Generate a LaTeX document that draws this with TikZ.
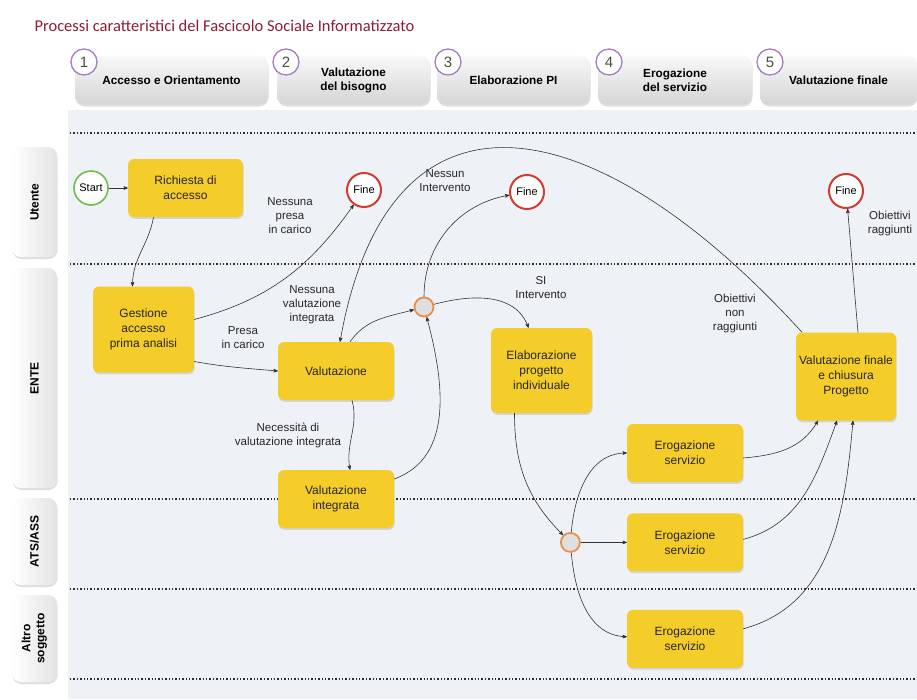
\documentclass[tikz,border=0pt]{standalone}
\usepackage{fontspec}
\setmainfont{Liberation Sans}
\newfontfamily\titlefont{Carlito}
\usetikzlibrary{positioning}
\usetikzlibrary{arrows}
\usetikzlibrary{shadows}

\definecolor{taskyellow}{HTML}{F5CD2B}
\definecolor{lanebg}{HTML}{EEF2F6}
\definecolor{finered}{HTML}{D33A32}
\definecolor{startgreen}{HTML}{6DBE4B}
\definecolor{gworange}{HTML}{E8904A}
\definecolor{phasepurple}{HTML}{A67CC6}
\definecolor{titlered}{HTML}{8C1D33}

\tikzset{node distance=2cm,
    task/.style={
        rectangle,
        rounded corners=6pt,
        fill=taskyellow,
        align=center,
        text=black!85,
        minimum width=116pt,
        minimum height=58pt,
        inner sep=2pt,
        font=\fontsize{12}{15}\selectfont,
        drop shadow={shadow xshift=0.6pt, shadow yshift=-1.8pt, opacity=0.25}},
    endev/.style={
        circle,
        draw=finered,
        line width=2pt,
        fill=white,
        minimum size=34pt,
        inner sep=0pt,
        font=\fontsize{11}{12}\selectfont},
    startev/.style={endev, draw=startgreen, line width=1.6pt},
    gateway/.style={
        circle,
        draw=gworange,
        line width=1.8pt,
        fill=gray!25,
        minimum size=19pt,
        inner sep=0pt},
    phase/.style={
        rectangle,
        rounded corners=9pt,
        top color=gray!5,
        bottom color=gray!33,
        minimum height=49pt,
        align=center,
        font=\bfseries\fontsize{11.8}{14}\selectfont,
        drop shadow={shadow xshift=0.5pt, shadow yshift=-2pt, opacity=0.25}},
    phasenum/.style={
        circle,
        draw=phasepurple,
        line width=1.3pt,
        fill=white,
        minimum size=26pt,
        inner sep=0pt,
        text=gray!60!black,
        font=\fontsize{15}{15}\selectfont},
    lane/.style={
        rectangle,
        rounded corners=9pt,
        left color=white,
        right color=gray!22,
        minimum width=45pt,
        align=center,
        font=\bfseries\fontsize{12}{14}\selectfont,
        drop shadow={shadow xshift=0.5pt, shadow yshift=-2pt, opacity=0.25}},
    lanesep/.style={dash pattern=on 1.4pt off 2pt, line width=1.2pt, gray!35!black},
    lbl/.style={align=center, inner sep=1pt, text=black!85, font=\fontsize{11.5}{14}\selectfont},
    every edge/.style={
        draw,
        ->,>=stealth',
        semithick,
        black!80}}

\begin{document}
\begin{tikzpicture}[x=1pt, y=1pt]
        \useasboundingbox (0,0) rectangle (917,-699);
        \fill[lanebg] (68,-110) rectangle (917,-699);

        % title and phases
        \node[anchor=west, text=titlered, font=\titlefont\fontsize{16.5}{18}\selectfont] (title) at (31,-26) {Processi caratteristici del Fascicolo Sociale Informatizzato};
        \node[phase, minimum width=193pt] (ph1) at (171.5,-80) {Accesso e Orientamento};
        \node[phase, minimum width=153pt] (ph2) at (353.5,-80) {Valutazione\\del bisogno};
        \node[phase, minimum width=153pt] (ph3) at (513.5,-80) {Elaborazione PI};
        \node[phase, minimum width=154pt] (ph4) at (675,-80) {Erogazione\\del servizio};
        \node[phase, minimum width=157pt] (ph5) at (838.5,-80) {Valutazione finale};
        \node[phasenum] (n1) at (84,-62) {1};
        \node[phasenum] (n2) at (286,-62) {2};
        \node[phasenum] (n3) at (448,-62) {3};
        \node[phasenum] (n4) at (609,-62) {4};
        \node[phasenum] (n5) at (770,-62) {5};

        % lanes
        \foreach \y in {133,264,499,589,679}
            \draw[lanesep] (70,-\y) -- (917,-\y);
        \node[lane, minimum height=110pt] (utente) at (34.5,-202) {\rotatebox{90}{Utente}};
        \node[lane, minimum height=220pt] (ente) at (34.5,-378) {\rotatebox{90}{ENTE}};
        \node[lane, minimum height=87pt] (ats) at (34.5,-541.5) {\rotatebox{90}{ATS/ASS}};
        \node[lane, minimum height=87pt] (altro) at (34.5,-638.5) {\rotatebox{90}{\begin{tabular}{@{}c@{}}Altro\\soggetto\end{tabular}}};

        % process
        \node[task, minimum width=115pt] (req) at (185.5,-188) {Richiesta di\\accesso};
        \node[startev, left=19pt of req] (start) {Start};
        \node[endev] (fine1) at (364,-190) {Fine};
        \node[task, minimum width=101pt, minimum height=86pt] (gest) at (143.5,-329.5) {Gestione\\accesso\\prima analisi};
        \node[task] (val) at (336,-371) {Valutazione};
        \node[task] (valint) at (336,-499) {Valutazione\\integrata};
        \node[gateway] (gw1) at (424,-307) {};
        \node[endev] (fine2) at (527,-192) {Fine};
        \node[task, minimum width=101pt, minimum height=85pt] (elab) at (541.5,-370.5) {Elaborazione\\progetto\\individuale};
        \node[task] (erog1) at (685,-453) {Erogazione\\servizio};
        \node[task, below=31pt of erog1] (erog2) {Erogazione\\servizio};
        \node[task, below=38pt of erog2] (erog3) {Erogazione\\servizio};
        \node[gateway, left=46pt of erog2] (gw2) {};
        \node[task, minimum width=100pt, minimum height=88pt] (vf) at (846,-376.5) {Valutazione finale\\e chiusura\\Progetto};
        \node[endev] (fine3) at (846,-191) {Fine};

        % labels
        \node[lbl] (lnopresa) at (290,-216) {Nessuna\\presa\\in carico};
        \node[lbl] (lpresa) at (243,-338) {Presa\\in carico};
        \node[lbl] (lnoint) at (312,-305) {Nessuna\\valutazione\\integrata};
        \node[lbl] (lnec) at (288,-435) {Necessità di\\valutazione integrata};
        \node[lbl] (lnessun) at (445,-181) {Nessun\\Intervento};
        \node[lbl] (lsi) at (541,-288) {SI\\Intervento};
        \node[lbl] (lnonragg) at (735,-314) {Obiettivi\\non\\raggiunti};
        \node[lbl] (lragg) at (890,-224) {Obiettivi\\raggiunti};

        \draw (start) edge (req);
        \draw ([xshift=-32pt]req.south) edge[out=-100, in=90] ([xshift=-11pt]gest.north);
        \draw ([yshift=10pt]gest.east) edge[out=15, in=235] (fine1);
        \draw ([yshift=-32pt]gest.east) edge[out=-10, in=175] (val.west);
        \draw ([xshift=14pt]val.north) edge[out=55, in=195] (gw1);
        \draw ([xshift=16pt]val.south) edge[out=-75, in=100] ([xshift=14pt]valint.north);
        \draw ([yshift=20pt]valint.east) edge[out=20, in=-75] (gw1);
        \draw (gw1) edge[out=90, in=190] (fine2);
        \draw (gw1) edge[out=15, in=110] ([xshift=-13pt]elab.north);
        \draw ([xshift=-27pt]elab.south) edge[out=-90, in=135] (gw2);
        \draw (gw2) edge[out=85, in=180] (erog1);
        \draw (gw2) edge (erog2);
        \draw (gw2) edge[out=-85, in=178] (erog3);
        \draw ([yshift=-5pt]erog1.east) edge[out=5, in=-120] ([xshift=-28pt]vf.south);
        \draw ([yshift=3pt]erog2.east) edge[out=15, in=-110] ([xshift=-9pt]vf.south);
        \draw ([yshift=10pt]erog3.east) edge[out=15, in=-95] ([xshift=7pt]vf.south);
        \draw ([xshift=12pt]vf.north) edge[out=95, in=-85] (fine3);
        \draw[->, >=stealth', semithick, black!80] ([xshift=-44pt]vf.north) .. controls (600,-110) and (390,-60) .. ([xshift=4pt]val.north);
\end{tikzpicture}
\end{document}
